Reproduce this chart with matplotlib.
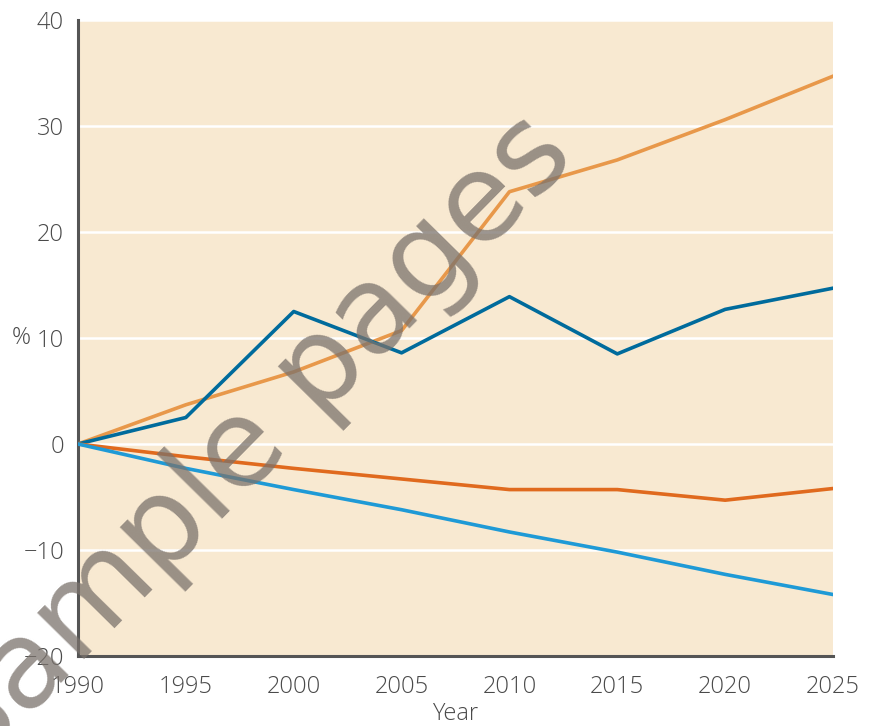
import matplotlib.pyplot as plt
import numpy as np

years = [1990, 1995, 2000, 2005, 2010, 2015, 2020, 2025]
light_orange = [0, 3.7, 6.8, 10.7, 23.8, 26.8, 30.6, 34.7]
dark_blue = [0, 2.5, 12.5, 8.6, 13.9, 8.5, 12.7, 14.7]
dark_orange = [0, -1.2, -2.3, -3.3, -4.3, -4.3, -5.3, -4.2]
light_blue = [0, -2.3, -4.3, -6.2, -8.3, -10.2, -12.3, -14.2]

yticks = [-20, -10, 0, 10, 20, 30, 40]
ytick_labels = ['\u221220', '\u221210', '0', '10', '20', '30', '40']

plt.rcParams['font.family'] = ['Open Sans', 'DejaVu Sans']
plt.rcParams['font.weight'] = 'light'
plt.rcParams['axes.labelweight'] = 'light'
txt = '#4a4a4a'

fig = plt.figure(figsize=(8.73, 7.26), dpi=100)
ax = fig.add_axes([78/873, 70/726, 755/873, 636/726])
ax.set_facecolor('#f8e9d1')

ax.plot(years, light_orange, color='#e8984a', lw=2.6, zorder=3)
ax.plot(years, dark_blue, color='#006b9c', lw=2.6, zorder=3)
ax.plot(years, dark_orange, color='#e06a1e', lw=2.6, zorder=3)
ax.plot(years, light_blue, color='#1f9ad6', lw=2.6, zorder=3)

ax.set_xlim(1990, 2025)
ax.set_ylim(-20, 40)
ax.set_xticks(years)
ax.set_yticks(yticks)
ax.set_yticklabels(ytick_labels)
ax.grid(axis='y', color='white', lw=1.8, zorder=1)
ax.set_axisbelow(True)
ax.tick_params(length=0, labelsize=17, labelcolor=txt, pad=10)
ax.tick_params(axis='x', pad=14)

for s in ['top', 'right']:
    ax.spines[s].set_visible(False)
for s in ['left', 'bottom']:
    ax.spines[s].set_color('#555555')
    ax.spines[s].set_linewidth(2.2)

ax.set_xlabel('Year', fontsize=17, color=txt, labelpad=2, fontweight='light')
fig.text(12/873, 1 - 338/726, '%', fontsize=17, color=txt, va='center', ha='left',
         fontweight='light')

# watermark
fig.text(250/873, 1 - 443/726, 'Sample pages', fontsize=88, color='#7a726c', alpha=0.75,
         rotation=45.5, ha='center', va='center', family='DejaVu Sans',
         fontweight='normal', zorder=10)

fig.savefig('out.png', dpi=100)
